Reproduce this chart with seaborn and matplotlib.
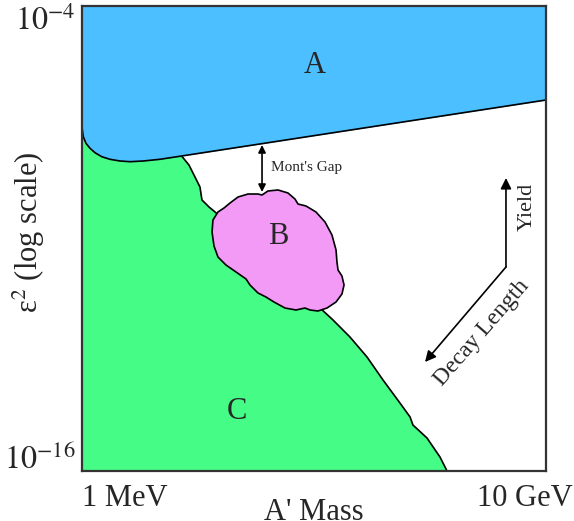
import numpy as np
import matplotlib
matplotlib.use('Agg')
import matplotlib.pyplot as plt
import matplotlib.transforms as mtransforms
import seaborn as sns

# --- Data (log10 of A' mass in GeV, log10 of eps^2) ---
# region A: lower edge of the blue band
a_logm = [-3.00, -2.997, -2.989, -2.966, -2.931, -2.888, -2.830, -2.759, -2.672,
          -2.586, -2.472, -2.328, -2.141, 1.00]
a_loge = [-7.10, -7.200, -7.373, -7.543, -7.672, -7.786, -7.889, -7.956, -8.000,
          -8.018, -8.000, -7.956, -7.871, -6.426]

# region C: right edge of the green area (top to bottom)
c_logm = [-2.141, -2.141, -2.078, -2.026, -1.983, -1.966, -1.948, -1.905, -1.853,
          -0.948, -0.836, -0.690, -0.543, -0.405, -0.259, -0.172, -0.147, -0.026,
          0.086, 0.147]
c_loge = [-6.94, -7.871, -8.103, -8.413, -8.671, -9.006, -9.058, -9.187, -9.316,
          -11.794, -12.103, -12.542, -13.058, -13.652, -14.245, -14.606, -14.813,
          -15.148, -15.639, -16.0]

# region B: cloud outline
b_logm = [-1.879, -1.871, -1.828, -1.776, -1.724, -1.655, -1.569, -1.483, -1.448,
          -1.397, -1.310, -1.224, -1.164, -1.138, -1.069, -0.983, -0.905, -0.845,
          -0.810, -0.802, -0.793, -0.759, -0.741, -0.759, -0.810, -0.888, -0.966,
          -1.034, -1.078, -1.155, -1.250, -1.345, -1.414, -1.483, -1.552, -1.586,
          -1.672, -1.759, -1.828, -1.862]
b_loge = [-9.832, -9.523, -9.316, -9.213, -9.084, -8.929, -8.852, -8.852, -8.877,
          -8.774, -8.748, -8.826, -8.981, -9.110, -9.161, -9.316, -9.574, -9.910,
          -10.297, -10.606, -10.813, -10.968, -11.200, -11.432, -11.639, -11.794,
          -11.871, -11.845, -11.794, -11.845, -11.794, -11.639, -11.510, -11.406,
          -11.200, -11.045, -10.865, -10.684, -10.477, -10.194]

# annotations
region_labels = ['A', 'B', 'C']
region_logm = [-0.991, -1.310, -1.664]
region_loge = [-5.523, -9.961, -14.477]
gap_logm = -1.448
gap_loge = [-7.587, -8.800]
corner = (0.655, -10.735)
yield_tip = (0.655, -8.439)
decay_tip = (-0.043, -13.187)

x_ticks = [1e-3, 10]
x_ticklabels = ['1 MeV', '10 GeV']
y_ticks = [1e-16, 1e-4]
y_ticklabels = ['$10^{-16}$', '$10^{-4}$']

blue = '#4BBFFF'
green = '#45FC86'
pink = '#F39AF7'

sns.set_theme(style='white')
plt.rcParams['font.family'] = ['Liberation Serif', 'DejaVu Serif']
plt.rcParams['mathtext.fontset'] = 'stix'

fig = plt.figure(figsize=(5.74, 5.21), dpi=100)
ax = fig.add_axes([82 / 574, 50 / 521, 464 / 574, 465 / 521])
ax.set_xscale('log')
ax.set_yscale('log')

p = lambda v: 10 ** np.asarray(v, dtype=float)

# green C
ax.fill_betweenx(p(c_loge), 1e-3, p(c_logm), color=green, lw=0, zorder=1)
sns.lineplot(x=p(c_logm), y=p(c_loge), sort=False, estimator=None, color='black',
             lw=1.2, ax=ax, zorder=2)

# blue A
ax.fill_between(p(a_logm), p(a_loge), 1e-4, color=blue, lw=0, zorder=3)
sns.lineplot(x=p(a_logm), y=p(a_loge), sort=False, estimator=None, color='black',
             lw=1.2, ax=ax, zorder=4)

# pink B
ax.fill(p(b_logm), p(b_loge), facecolor=pink, edgecolor='black', lw=1.2,
        joinstyle='round', zorder=5)

for lab, lm, le in zip(region_labels, region_logm, region_loge):
    ax.text(10 ** lm, 10 ** le, lab, fontsize=22, ha='center', va='center', zorder=6)

# Mont's Gap arrow
ax.annotate('', xy=(10 ** gap_logm, 10 ** gap_loge[0]), xytext=(10 ** gap_logm, 10 ** gap_loge[1]),
            arrowprops=dict(arrowstyle='<|-|>', color='black', lw=1.2, mutation_scale=11,
                            shrinkA=0, shrinkB=0), zorder=7)
ax.text(10 ** -1.371, 10 ** -8.155, "Mont's Gap", fontsize=11, ha='left', va='center')

# Yield / Decay Length arrows
ax.annotate('', xy=(10 ** yield_tip[0], 10 ** yield_tip[1]), xytext=(10 ** corner[0], 10 ** corner[1]),
            arrowprops=dict(arrowstyle='-|>', color='black', lw=1.2, mutation_scale=16,
                            shrinkA=0, shrinkB=0))
ax.annotate('', xy=(10 ** decay_tip[0], 10 ** decay_tip[1]), xytext=(10 ** corner[0], 10 ** corner[1]),
            arrowprops=dict(arrowstyle='-|>', color='black', lw=1.2, mutation_scale=16,
                            shrinkA=0, shrinkB=0))
ax.text(10 ** 0.836, 10 ** -9.187, 'Yield', fontsize=16, rotation=90, ha='center', va='center')
ax.text(10 ** 0.448, 10 ** -12.439, 'Decay Length', fontsize=17, rotation=49,
        ha='center', va='center', rotation_mode='anchor')

ax.set_xlim(1e-3, 10)
ax.set_ylim(1e-16, 1e-4)
ax.minorticks_off()
ax.set_xticks(x_ticks)
ax.set_xticklabels(x_ticklabels, fontsize=22)
ax.set_yticks(y_ticks)
ax.set_yticklabels(y_ticklabels, fontsize=23)
ax.tick_params(length=0)
ax.tick_params(axis='x', pad=9)
ax.tick_params(axis='y', pad=5)

xl = ax.get_xticklabels()
xl[0].set_ha('left')
xl[1].set_ha('right')
xl[1].set_transform(xl[1].get_transform() + mtransforms.ScaledTranslation(0.27, 0, fig.dpi_scale_trans))
yl = ax.get_yticklabels()
yl[0].set_va('bottom')
yl[0].set_transform(yl[0].get_transform() + mtransforms.ScaledTranslation(0, -0.05, fig.dpi_scale_trans))
yl[1].set_va('top')

ax.set_xlabel("A' Mass", fontsize=22)
ax.set_ylabel('ε$^2$ (log scale)', fontsize=22)
ax.xaxis.set_label_coords(0.5, -0.058)
ax.xaxis.label.set_va('top')
ax.yaxis.set_label_coords(-0.075, 0.513)

for s in ax.spines.values():
    s.set_visible(True)
    s.set_color('#333333')
    s.set_linewidth(1.6)
    s.set_zorder(10)
ax.grid(False)

fig.savefig('out.png', dpi=100)
